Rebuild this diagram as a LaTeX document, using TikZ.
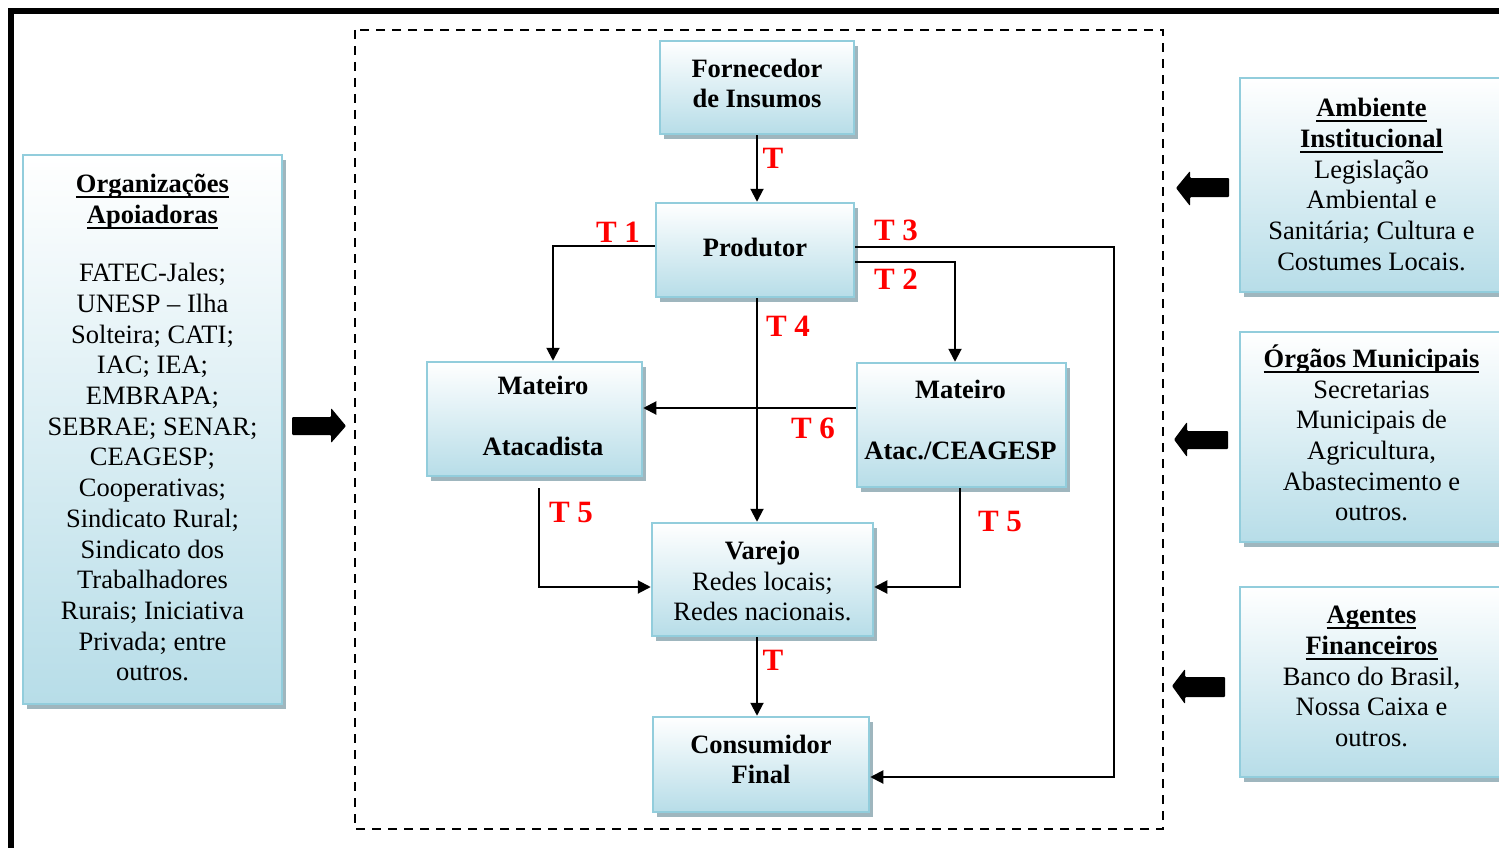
\documentclass[tikz,border=0pt]{standalone}
\usepackage{fontspec}
\setmainfont{Liberation Serif}
\usetikzlibrary{arrows.meta,shadows}
\definecolor{bxborder}{HTML}{92CDDC}
\definecolor{bxbottom}{HTML}{B7DDE8}
\definecolor{shadowc}{HTML}{9FB6BE}
\definecolor{tred}{HTML}{FF0000}
\newcommand\ulx[1]{\setbox0\hbox{#1}\rlap{\rule[-5.5pt]{\wd0}{1.8pt}}\box0}
\tikzset{
  box/.style={draw=bxborder, line width=2.5pt, top color=white, bottom color=bxbottom,
    inner sep=0pt,
    drop shadow={shadow xshift=4pt, shadow yshift=-5pt, fill=shadowc, opacity=1}},
  boxtext/.style={align=center, inner sep=0pt, font=\fontsize{26.5}{30.7}\selectfont},
  conn/.style={line width=2pt, -{Triangle[width=13pt,length=13pt]}},
  tlab/.style={text=tred, inner sep=0pt, font=\fontsize{31}{31}\selectfont\bfseries},
  blockarrow/.style={fill=black, rounded corners=1pt},
}
\begin{document}
\begin{tikzpicture}[x=1pt,y=-1pt]
\useasboundingbox (0,0) rectangle (1499,848);
\clip (0,0) rectangle (1499,848);

% outer frame (only left and top edges visible)
\draw[line width=6pt] (10.5,870) -- (10.5,11) -- (1520,11);

% dashed system boundary
\draw[line width=2.5pt, dash pattern=on 9pt off 7pt] (355,30) rectangle (1163,829);

% left box
\node[box, minimum width=259, minimum height=549] (org) at (152.5,429.5) {};
\node[boxtext] (orgtext) at (152.5,427.5)
  {\textbf{\ulx{Organizações}}\\\textbf{\ulx{Apoiadoras}}\\[28pt]
   FATEC-Jales;\\UNESP – Ilha\\Solteira; CATI;\\IAC; IEA;\\EMBRAPA;\\SEBRAE; SENAR;\\CEAGESP;\\Cooperativas;\\Sindicato Rural;\\Sindicato dos\\Trabalhadores\\Rurais; Iniciativa\\Privada; entre\\outros.};

% right boxes
\node[box, minimum width=263, minimum height=214] (amb) at (1371.5,185) {};
\node[boxtext] (ambtext) at (1371.5,184.5)
  {\textbf{\ulx{Ambiente}}\\\textbf{\ulx{Institucional}}\\Legislação\\Ambiental e\\Sanitária; Cultura e\\Costumes Locais.};
\node[box, minimum width=263, minimum height=210] (mun) at (1371.5,437) {};
\node[boxtext] (muntext) at (1371.5,433)
  {\textbf{\ulx{Órgãos Municipais}}\\Secretarias\\Municipais de\\Agricultura,\\Abastecimento e\\outros.};
\node[box, minimum width=263, minimum height=190] (fin) at (1371.5,682) {};
\node[boxtext] (fintext) at (1371.5,676.5)
  {\textbf{\ulx{Agentes}}\\\textbf{\ulx{Financeiros}}\\Banco do Brasil,\\Nossa Caixa e\\outros.};

% chain boxes
\node[box, minimum width=194, minimum height=93] (forn) at (757,87.5) {};
\node[boxtext] (forntext) at (757,83.5) {\textbf{Fornecedor}\\\textbf{de Insumos}};
\node[box, minimum width=198, minimum height=94] (prod) at (755,250) {};
\node[boxtext] (prodtext) at (755,247) {\textbf{Produtor}};
\node[box, minimum width=215, minimum height=114] (mata) at (534.5,419) {};
\node[boxtext] (matatext) at (543,416) {\textbf{Mateiro}\\[31pt]\textbf{Atacadista}};
\node[box, minimum width=209, minimum height=124] (ceag) at (961.5,425) {};
\node[boxtext] (ceagtext) at (960.5,420) {\textbf{Mateiro}\\[31pt]\textbf{Atac./CEAGESP}};
\node[box, minimum width=221, minimum height=113] (varejo) at (762.5,579.5) {};
\node[boxtext] (varejotext) at (762.5,581) {\textbf{Varejo}\\Redes locais;\\Redes nacionais.};
\node[box, minimum width=216, minimum height=95] (cons) at (761,764.5) {};
\node[boxtext] (constext) at (761,759.5) {\textbf{Consumidor}\\\textbf{Final}};

% block arrows
\fill[blockarrow] (292,417) -- (331,417) -- (331,408) -- (346,426) -- (331,443) -- (331,435) -- (292,435) -- cycle;
\fill[blockarrow] (1229,178) -- (1190,178) -- (1190,171) -- (1176,188) -- (1190,206) -- (1190,197) -- (1229,197) -- cycle;
\fill[blockarrow] (1228,431) -- (1187,431) -- (1187,422) -- (1174,439.5) -- (1187,457) -- (1187,449) -- (1228,449) -- cycle;
\fill[blockarrow] (1225,677) -- (1185,677) -- (1185,669) -- (1172,686) -- (1185,704) -- (1185,697) -- (1225,697) -- cycle;

% connectors
\draw[conn] (forn.south) -- (forn.south |- prod.north);
\draw[conn] ([yshift=4pt]prod.west) -| ([xshift=18.5pt]mata.north);
\draw[conn] ([yshift=3pt]prod.east) -- ++(259,0) |- ([yshift=-12.5pt]cons.east);
\draw[conn] ([yshift=-12pt]prod.east) -| ([xshift=-6.5pt]ceag.north);
\draw[conn] ([xshift=2pt]prod.south) -- ([xshift=2pt]prod.south |- varejo.north);
\draw[conn] ([yshift=17pt]ceag.west) -- ([yshift=17pt]ceag.west -| mata.east);
\coordinate (t5s) at (539,488);
\draw[conn] (t5s) |- ([yshift=-7.5pt]varejo.west);
\draw[conn] ([xshift=-1.5pt]ceag.south) |- ([yshift=-7.5pt]varejo.east);
\draw[conn] ([xshift=-5.5pt]varejo.south) -- ([xshift=-5.5pt]varejo.south |- cons.north);

% transaction labels
\node[tlab] (lt0) at (773,158) {T};
\node[tlab] (lt1) at (618,232) {T 1};
\node[tlab] (lt3) at (896,230) {T 3};
\node[tlab] (lt2) at (896,279) {T 2};
\node[tlab] (lt4) at (788,326) {T 4};
\node[tlab] (lt6) at (813,428) {T 6};
\node[tlab] (lt5a) at (571,512) {T 5};
\node[tlab] (lt5b) at (1000,521) {T 5};
\node[tlab] (lt7) at (773,660) {T};
\end{tikzpicture}
\end{document}
